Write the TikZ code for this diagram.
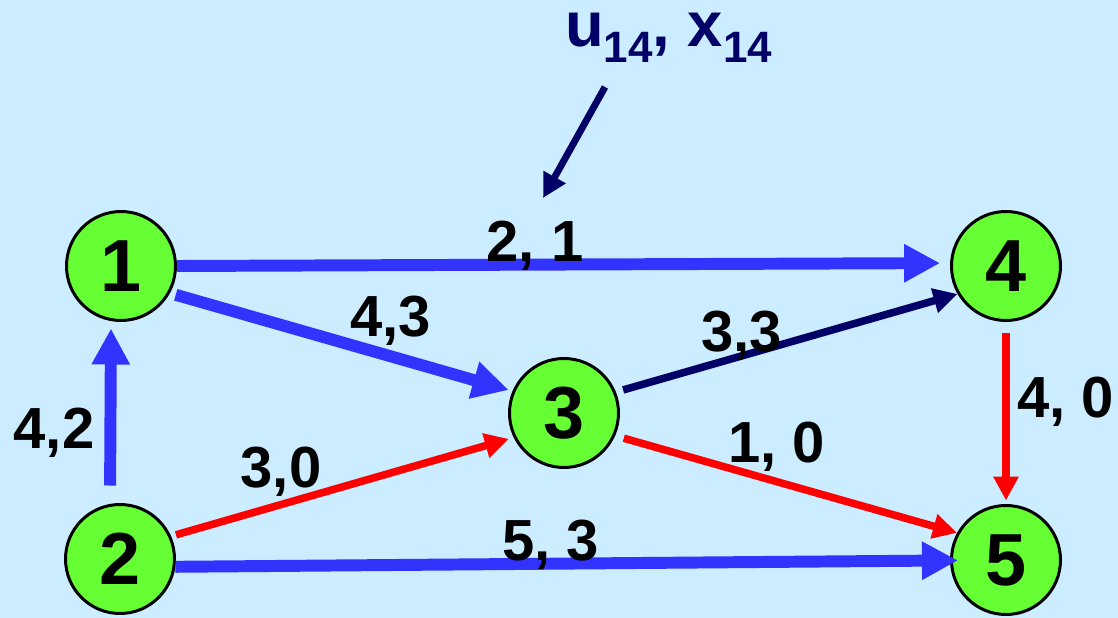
\documentclass[tikz,border=0pt]{standalone}
\usepackage{fontspec}
\setmainfont{Liberation Sans}
\usepackage{tikz}
\usetikzlibrary{arrows.meta}
\definecolor{bgblue}{RGB}{204,236,255}
\definecolor{nodegreen}{RGB}{102,255,51}
\definecolor{flowblue}{RGB}{51,51,255}
\definecolor{navy}{RGB}{0,0,102}

\begin{document}
\begin{tikzpicture}[
  vertex/.style={circle, draw=black, line width=1.7pt, fill=nodegreen, minimum size=2.18cm, inner sep=0pt, font=\fontsize{42}{42}\selectfont\bfseries},
  wt/.style={anchor=base, inner sep=0pt, font=\fontsize{33}{33}\selectfont\bfseries},
  fat/.style={draw=flowblue, line width=6.8pt, -{Triangle[length=0.72cm, width=0.72cm]}},
  slim/.style={line width=4.3pt, -{Triangle[length=0.48cm, width=0.48cm]}}]
\fill[bgblue] (0,0) rectangle (22.36,-12.36);
\useasboundingbox (0,0) rectangle (22.36,-12.36);
\node[vertex] (n1) at (2.42,-5.32) {1};
\node[vertex] (n2) at (2.40,-11.18) {2};
\node[vertex] (n3) at (11.28,-8.26) {3};
\node[vertex] (n4) at (20.12,-5.32) {4};
\node[vertex] (n5) at (20.12,-11.20) {5};
% flows
\draw[fat, shorten >=0.2cm] (n1.east) -- (n4.177);
\draw[fat, shorten <=0.12cm, shorten >=0.08cm] (n1.-29) -- (n3.157);
\draw[fat, shorten <=0.35cm, shorten >=0.13cm] ([xshift=-0.2cm]n2.north) -- ([xshift=-0.2cm]n1.south);
\draw[fat, shorten >=0.96cm] (n2.-8) -- (n5.center);
\draw[slim, red, shorten <=0.1cm, shorten >=0.1cm] (n2.24) -- (n3.206);
\draw[slim, red, shorten <=0.18cm] (n3.-24) -- (n5.151);
\draw[slim, navy, shorten <=0.15cm] (n3.22) -- (n4.210);
\draw[slim, red, shorten <=0.23cm, shorten >=0.07cm] (n4.south) -- (n5.north);
\node[wt] (w14) at (10.70,-5.24) {2, 1};
\node[wt] (w13) at (7.81,-6.74) {4,3};
\node[wt] (w34) at (14.83,-7.04) {3,3};
\node[wt] (w35) at (15.53,-9.24) {1, 0};
\node[wt] (w23) at (5.62,-9.74) {3,0};
\node[wt] (w25) at (11.01,-11.20) {5, 3};
\node[wt] (w45) at (21.31,-8.36) {4, 0};
\node[wt] (w21) at (1.08,-8.96) {4,2};
% label of arc (1,4)
\node[anchor=base west, inner sep=0pt, text=navy, font=\fontsize{36}{36}\selectfont\bfseries] (lbl) at (11.3,-0.94)
  {u\raisebox{-9pt}{\fontsize{25}{25}\selectfont 14}, x\raisebox{-9pt}{\fontsize{25}{25}\selectfont 14}};
\coordinate (ptrs) at (12.10,-1.74);
\coordinate (ptr) at (10.86,-3.96);
\draw[slim, navy, line width=3.9pt] (ptrs) -- (ptr);
\end{tikzpicture}
\end{document}
